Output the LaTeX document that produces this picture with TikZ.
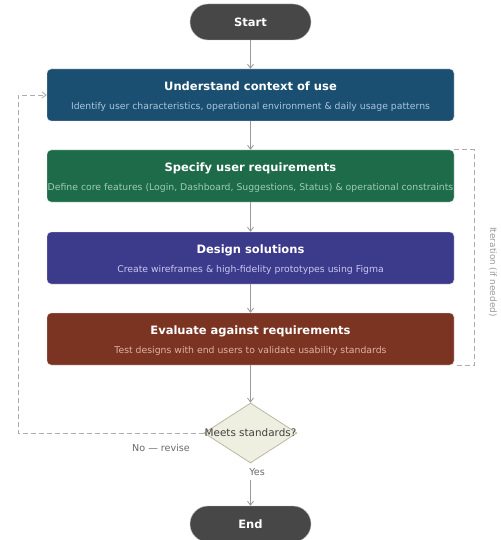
\documentclass[tikz,border=0pt]{standalone}
\usepackage{fontspec}
\setmainfont{DejaVu Sans}
\usetikzlibrary{shapes.geometric}
\usetikzlibrary{shapes.misc}
\usetikzlibrary{arrows.meta}
\definecolor{pillgray}{HTML}{474747}
\definecolor{ctxblue}{HTML}{1B4F72}
\definecolor{ctxsub}{HTML}{A9C6DC}
\definecolor{reqgreen}{HTML}{1E6B49}
\definecolor{reqsub}{HTML}{9DCDB3}
\definecolor{dsgindigo}{HTML}{3B3A8B}
\definecolor{dsgsub}{HTML}{C9C8F0}
\definecolor{evalbrown}{HTML}{7B3322}
\definecolor{evalsub}{HTML}{E2B2A2}
\definecolor{decfill}{HTML}{EFEFE1}
\definecolor{decline}{HTML}{B9B9A3}
\definecolor{flowgray}{HTML}{9A9A9A}
\definecolor{notegray}{HTML}{6A6A6A}
\newcommand{\stagetitle}[1]{{\bfseries\fontsize{11.5}{19}\selectfont\rule{0pt}{12.7pt}#1}}
\newcommand{\stagesub}[2]{{\color{#1}\fontsize{9.3}{19}\selectfont #2}}
\tikzstyle{terminal}=[rounded rectangle, fill=pillgray, draw=gray!50, text=white, font=\bfseries\fontsize{11.5}{13}\selectfont, minimum width=121pt, minimum height=36pt, inner sep=0pt]
\tikzstyle{stage}=[rounded corners=4pt, draw=white!80!gray, text=white, minimum width=407pt, minimum height=52pt, inner xsep=0pt, inner ysep=0pt, align=center, font=\fontsize{9.3}{19}\selectfont]
\tikzstyle{decision}=[diamond, fill=decfill, draw=decline, line width=0.8pt, minimum width=93pt, minimum height=60pt, inner sep=0pt]
\tikzstyle{flow}=[draw=flowgray, line width=0.8pt, -{Straight Barb[length=4pt,width=6pt]}]
\tikzstyle{loopline}=[draw=flowgray!80, line width=0.9pt, dash pattern=on 5pt off 3pt]
\tikzstyle{note}=[text=notegray, font=\fontsize{9.6}{11}\selectfont, inner sep=1pt]

\begin{document}
\begin{tikzpicture}[x=1pt, y=-1pt]
        \useasboundingbox[fill=white] (0,0) rectangle (500,540);
        \node[terminal] (start) at (250.5, 22) {Start};
        \node[stage, fill=ctxblue] (ctx) at (250.5, 95) {\stagetitle{Understand context of use}\\\stagesub{ctxsub}{Identify user characteristics, operational environment \& daily usage patterns}};
        \node[stage, fill=reqgreen] (spec) at (250.5, 176) {\stagetitle{Specify user requirements}\\\stagesub{reqsub}{Define core features (Login, Dashboard, Suggestions, Status) \& operational constraints}};
        \node[stage, fill=dsgindigo] (design) at (250.5, 258) {\stagetitle{Design solutions}\\\stagesub{dsgsub}{Create wireframes \& high-fidelity prototypes using Figma}};
        \node[stage, fill=evalbrown] (eval) at (250.5, 339) {\stagetitle{Evaluate against requirements}\\\stagesub{evalsub}{Test designs with end users to validate usability standards}};
        \node[decision, label={[text=black!75, font=\fontsize{10.4}{12}\selectfont]center:Meets standards?}] (dec) at (250.5, 433) {};
        \node[terminal] (fin) at (250.5, 524) {End};
        \node[note] (yeslbl) at (257, 472) {Yes};
        \node[note] (nolbl) at (161, 448) {No — revise};
        \node[note, text=flowgray, rotate=-90, font=\fontsize{8.9}{10}\selectfont] (iterlbl) at (493, 272) {Iteration (if needed)};
        \coordinate (yesgap) at (250.5, 480);
        \coordinate (back) at (18, 433);
        \draw[flow] (start) -- (ctx);
        \draw[flow] (ctx) -- (spec);
        \draw[flow] (spec) -- (design);
        \draw[flow] (design) -- (eval);
        \draw[flow] (eval) -- (dec);
        \draw[flow] (yesgap) -- (fin);
        \draw[loopline, -{Straight Barb[length=4pt,width=6pt]}] (dec.west) -- (back) |- (ctx.west);
        \draw[loopline] (spec.north east) -- ++(20,0) |- (eval.south east);
    \end{tikzpicture}
\end{document}
